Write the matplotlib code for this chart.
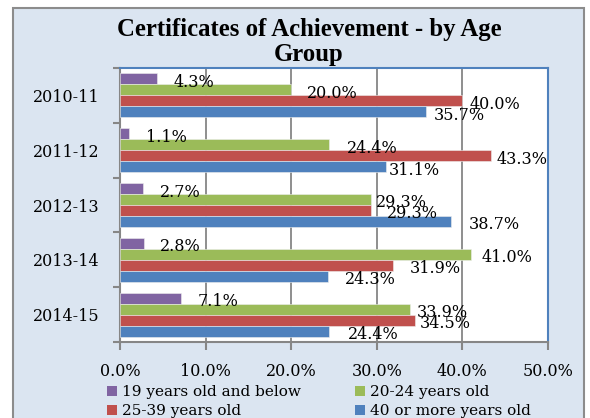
import matplotlib
matplotlib.use('Agg')
import matplotlib.pyplot as plt
from matplotlib.patches import Rectangle, Patch
import numpy as np

plt.rcParams['font.family'] = ['DejaVu Serif']

# data
years = ['2010-11', '2011-12', '2012-13', '2013-14', '2014-15']
age_groups = ['19 years old and below', '20-24 years old',
              '25-39 years old', '40 or more years old']
pct_19_below = [4.3, 1.1, 2.7, 2.8, 7.1]
pct_20_24 = [20.0, 24.4, 29.3, 41.0, 33.9]
pct_25_39 = [40.0, 43.3, 29.3, 31.9, 34.5]
pct_40_plus = [35.7, 31.1, 38.7, 24.3, 24.4]
x_ticks = [0, 10, 20, 30, 40, 50]

colors = ['#8064A2', '#9BBB59', '#C0504D', '#4F81BD']
series = [pct_19_below, pct_20_24, pct_25_39, pct_40_plus]

# horizontal gap (px) between bar end and its label, as placed in the original
label_gap_px = [[17, 17, 17, 16, 17],
                [16, 18, 5, 11, 7],
                [7, 6, 16, 17, 4],
                [8, 3, 17, 17, 19]]

W, H = 590, 418
BAR_H = 0.2
GRAY = '#868686'
PX = 72 / 100  # points per pixel at dpi 100

fig = plt.figure(figsize=(W / 100, H / 100), dpi=100)
fig.patch.set_facecolor('white')

# chart area background + border (runs off the bottom like the original)
fig.add_artist(Rectangle((13 / W, -0.05), 571 / W, 1.05 - 8 / H,
                         transform=fig.transFigure, facecolor='#DBE5F1',
                         edgecolor='#8C8C8C', lw=1.5, zorder=-10))

ax = fig.add_axes([120 / W, 1 - 342 / H, 428 / W, 274 / H])
ax.set_zorder(1)
ax.set_facecolor('white')

y = np.arange(len(years))
for i, (vals, col) in enumerate(zip(series, colors)):
    offset = (i - 1.5) * BAR_H
    ax.barh(y + offset, vals, height=BAR_H, color=col,
            edgecolor='#EEEEEE', linewidth=0.4, zorder=3)
    for j, (yy, v) in enumerate(zip(y + offset, vals)):
        ax.annotate(f'{v:.1f}%', xy=(v, yy),
                    xytext=(label_gap_px[i][j] * PX, -2.5),
                    textcoords='offset points', ha='left', va='center',
                    fontsize=11.5, zorder=4, annotation_clip=False)

ax.set_xlim(0, 50)
ax.set_ylim(len(years) - 0.5, -0.5)

ax.set_xticks(x_ticks)
ax.set_xticklabels([f'{t:.1f}%' for t in x_ticks])
ax.tick_params(axis='x', direction='out', length=6, width=1.5, color=GRAY,
               pad=9, labelsize=11.5)

ax.set_yticks(np.arange(-0.5, len(years), 1))
ax.set_yticklabels([])
ax.set_yticks(y, minor=True)
ax.set_yticklabels(years, minor=True)
ax.tick_params(axis='y', which='major', direction='out', length=5,
               width=1.5, color=GRAY)
ax.tick_params(axis='y', which='minor', length=0, pad=15, labelsize=11.5)

ax.xaxis.grid(True, color=GRAY, lw=1.3)
ax.set_axisbelow(True)

for s in ['left', 'bottom']:
    ax.spines[s].set_color(GRAY)
    ax.spines[s].set_linewidth(1.5)
for s in ['top', 'right']:
    ax.spines[s].set_color('#4F81BD')
    ax.spines[s].set_linewidth(1.5)

# title, wrapped like the original
fig.text(309 / W, 1 - 36 / H, 'Certificates of Achievement - by Age',
         ha='center', va='baseline', fontsize=17.8, fontweight='bold',
         family='Liberation Serif')
fig.text(309 / W, 1 - 61 / H, 'Group',
         ha='center', va='baseline', fontsize=17.8, fontweight='bold',
         family='Liberation Serif')

# legend: column-first fill -> purple, red | green, blue
order = [0, 2, 1, 3]
handles = [Patch(facecolor=colors[k], label=age_groups[k]) for k in order]
fig.legend(handles=handles, loc='upper left',
           bbox_to_anchor=(107 / W, 1 - 385 / H), ncol=2, frameon=False,
           fontsize=11, handlelength=0.65, handleheight=0.65,
           handletextpad=0.35, columnspacing=3.5, labelspacing=0.35,
           borderpad=0, borderaxespad=0)

fig.savefig('out.png', dpi=100)
